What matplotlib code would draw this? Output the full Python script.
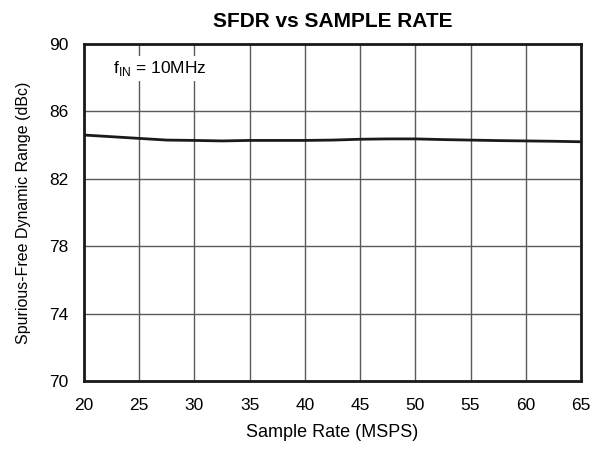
import matplotlib; matplotlib.use("Agg"); import matplotlib.pyplot as plt

plt.rcParams["font.family"] = ["Liberation Sans", "DejaVu Sans"]

rate = [20, 22.5, 25, 27.5, 30, 32.5, 35, 37.5, 40, 42.5, 45, 47.5, 50, 52.5, 55, 57.5, 60, 62.5, 65]
sfdr = [84.6, 84.5, 84.4, 84.3, 84.28, 84.25, 84.28, 84.28, 84.28, 84.3, 84.35, 84.37, 84.37, 84.33, 84.3, 84.27, 84.25, 84.23, 84.2]
xticks = [20, 25, 30, 35, 40, 45, 50, 55, 60, 65]
yticks = [70, 74, 78, 82, 86, 90]

fig = plt.figure(figsize=(5.98, 4.51), dpi=100)
ax = fig.add_axes([0.1405, 0.155, 0.831, 0.7474])
ax.plot(rate, sfdr, color="#1a1a1a", lw=2.0, zorder=3)
ax.set_xlim(20, 65); ax.set_ylim(70, 90)
ax.set_xticks(xticks); ax.set_yticks(yticks)
ax.grid(True, color="#5a5a5a", lw=1.0, zorder=1)
ax.tick_params(axis="x", length=0, labelsize=12.5, pad=12)
ax.tick_params(axis="y", length=0, labelsize=12.5, pad=11)
for s in ax.spines.values(): s.set_linewidth(2.0); s.set_color("#1a1a1a")
ax.set_xlabel("Sample Rate (MSPS)", fontsize=13, labelpad=8)
ax.set_ylabel("Spurious-Free Dynamic Range (dBc)", fontsize=11.5, labelpad=13)
ax.set_title("SFDR vs SAMPLE RATE", fontsize=15, fontweight="bold", pad=12)
ax.text(0.058, 0.955, r"f$_{\mathregular{IN}}$ = 10MHz", transform=ax.transAxes, fontsize=12.5,
        va="top", ha="left", zorder=4,
        bbox=dict(facecolor="white", edgecolor="none", pad=2))
fig.savefig("out.png", dpi=100)
